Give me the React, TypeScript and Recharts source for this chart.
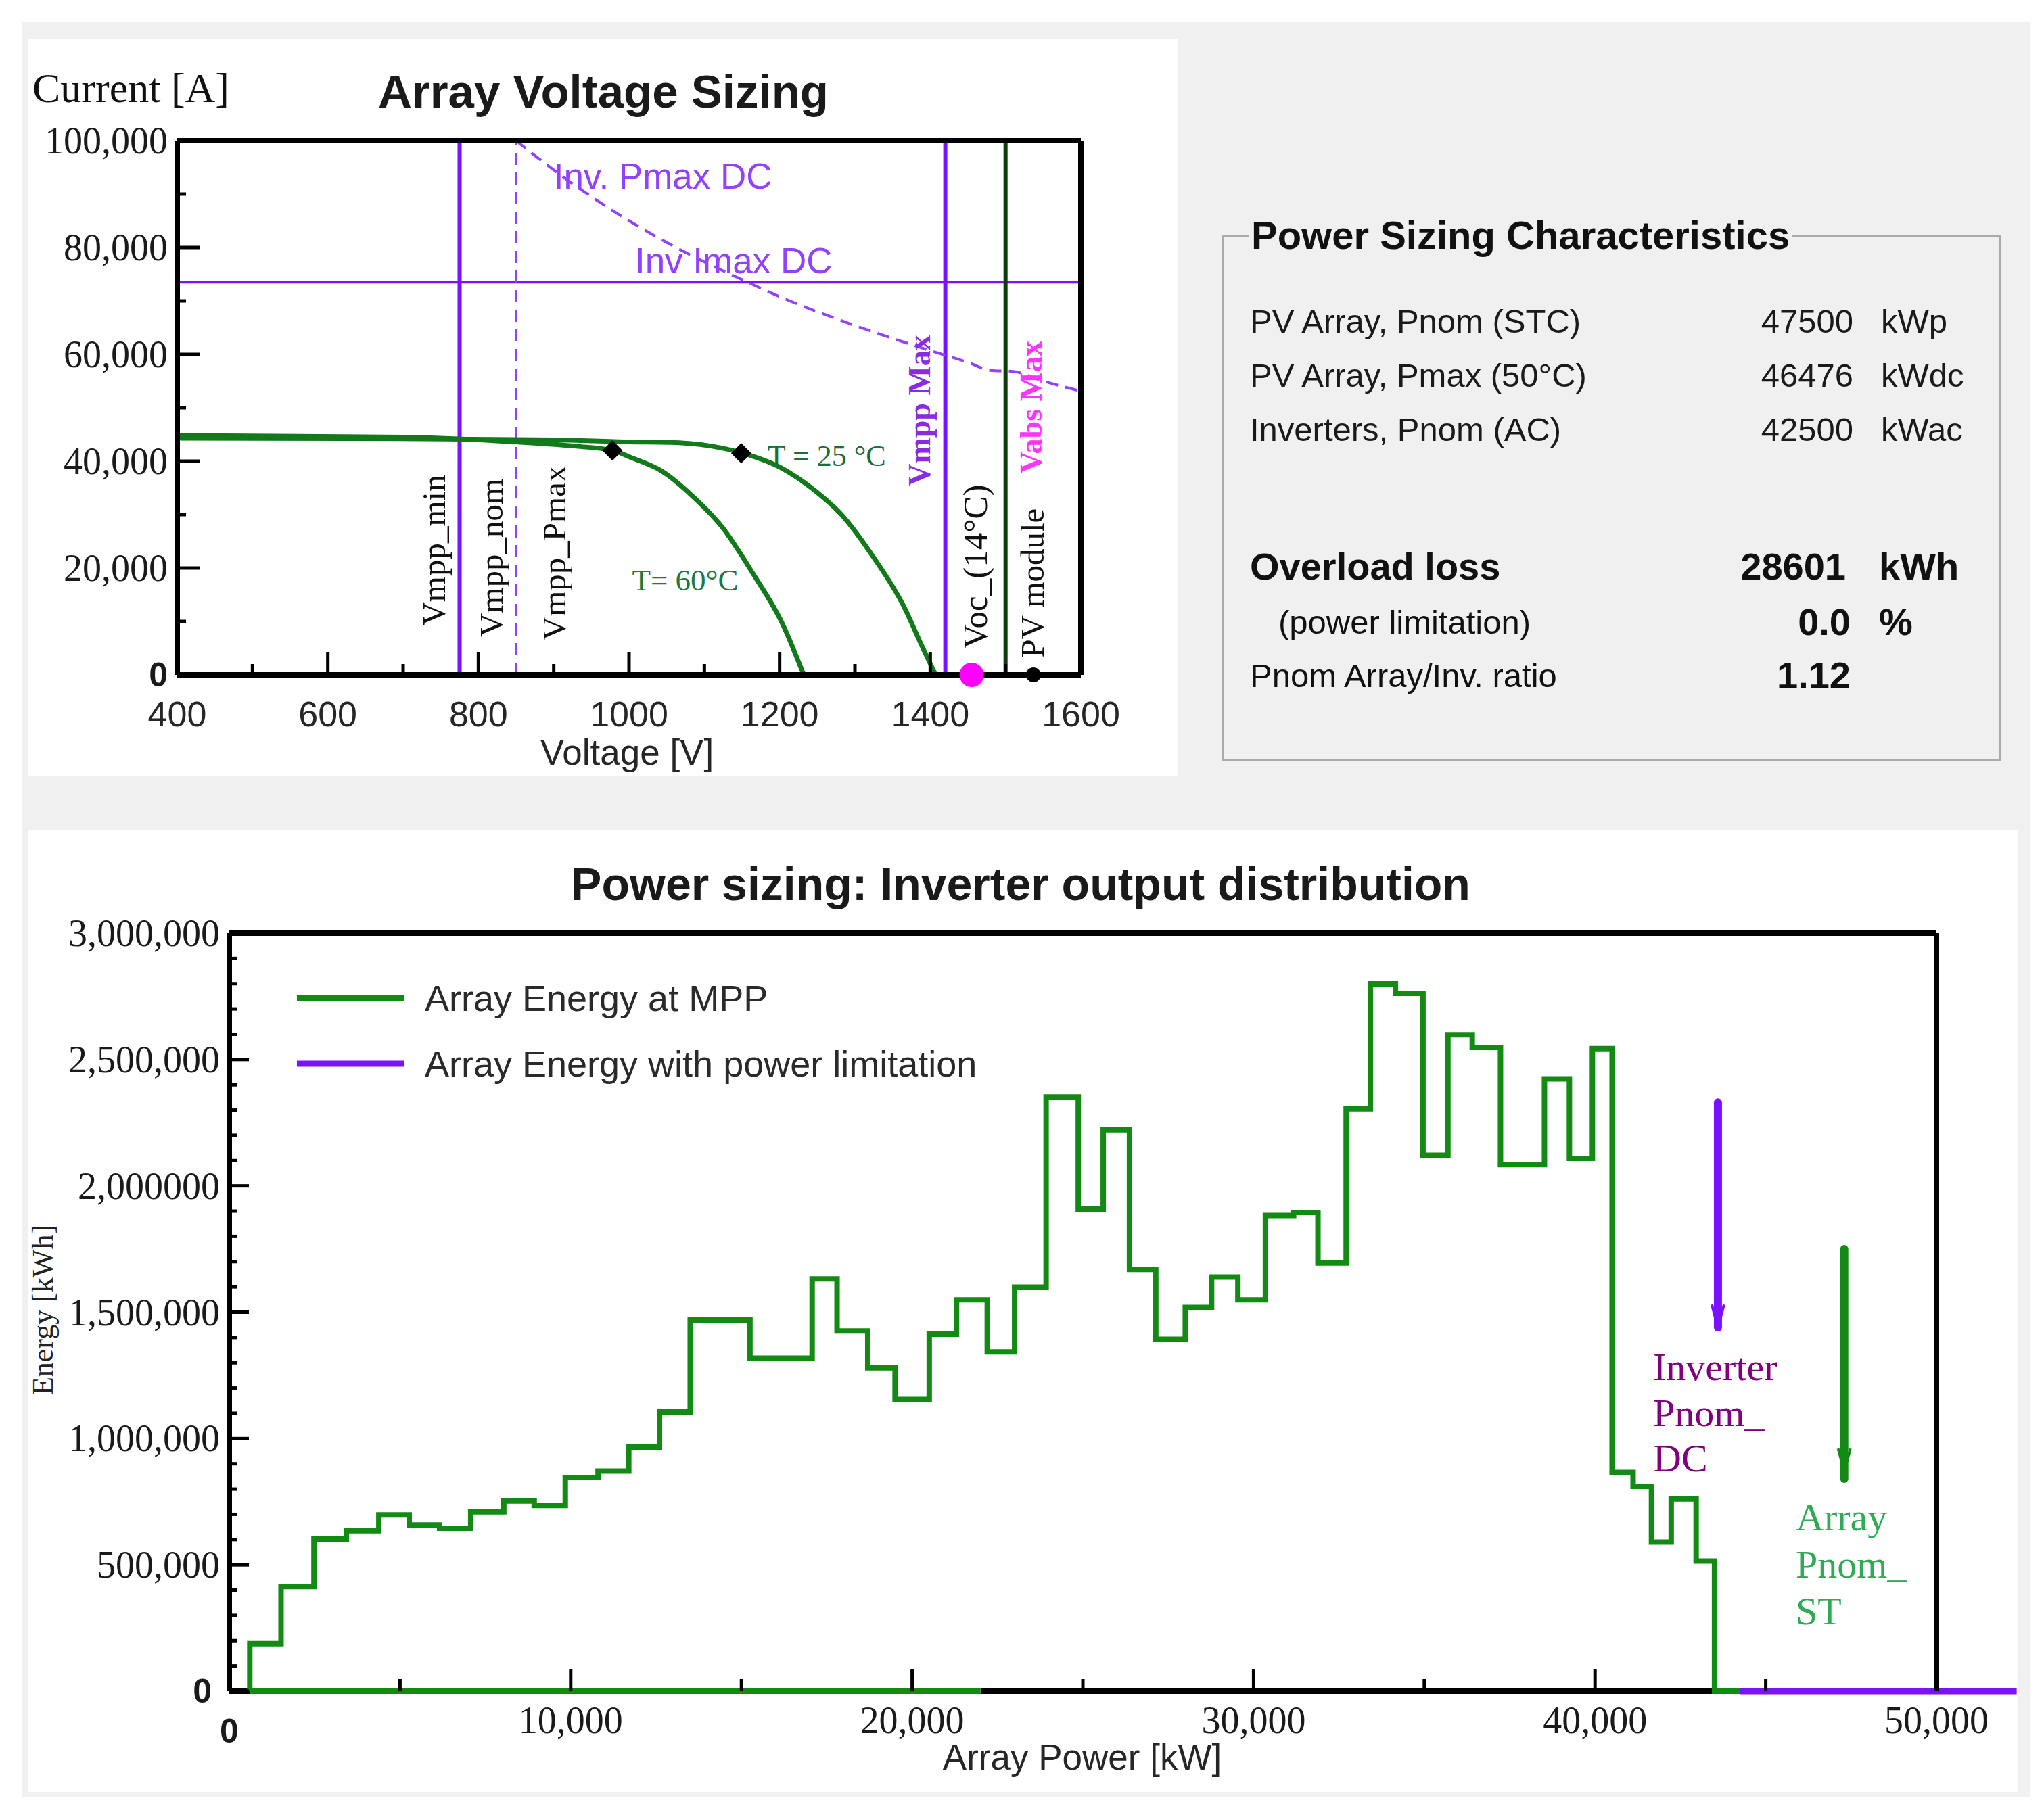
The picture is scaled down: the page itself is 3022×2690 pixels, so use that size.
import React from 'react';
import {
  ComposedChart,
  Line,
  XAxis,
  YAxis,
  ReferenceLine,
  ReferenceDot,
  Legend,
} from 'recharts';

const SANS = '"Liberation Sans", Arial, sans-serif';
const SERIF = '"Liberation Serif", "Times New Roman", serif';
const PURPLE = '#7b12ff';
const LIGHT_PURPLE = '#9340ff';
const GREEN = '#138a13';
const IV_GREEN = '#137a1c';

// ---------- Array Voltage Sizing (top left) ----------
const voltTicks = [400, 500, 600, 700, 800, 900, 1000, 1100, 1200, 1300, 1400, 1500, 1600];
const voltTickLabels = [400, 600, 800, 1000, 1200, 1400, 1600];
const currentTicks = [0, 10000, 20000, 30000, 40000, 50000, 60000, 70000, 80000, 90000, 100000];
const currentMajor = [0, 20000, 40000, 60000, 80000, 100000];
const currentTickLabels = ['0', '20,000', '40,000', '60,000', '80,000', '100,000'];

const iv25Volt = [400, 700, 900, 1000, 1054, 1110, 1151, 1204, 1244, 1284, 1324, 1365, 1388, 1407];
const iv25Amp = [44300, 44200, 44000, 43600, 43500, 42800, 41500, 38600, 34800, 29700, 22150, 12800, 5700, 0];
const iv60Volt = [400, 700, 850, 930, 978, 1004, 1044, 1084, 1124, 1164, 1204, 1232];
const iv60Amp = [44800, 44500, 43600, 42800, 42000, 40600, 38100, 33500, 27600, 19100, 9500, 0];
const pmaxDcVolt = [850, 900, 1000, 1100, 1150, 1200, 1300, 1400, 1450, 1480, 1510, 1550, 1600];
const pmaxDcAmp = [100000, 94500, 85000, 77300, 74000, 70800, 65400, 60700, 58500, 57000, 56800, 55000, 53100];
const mppVolt = [978, 1149];
const mppAmp = [42000, 41500];
const vmppMin = 775;
const vmppNom = 850;
const vmppMax = 1420;
const vabsMax = 1500;
const invImaxDc = 73500;
const vocVolt = 1455;
const moduleVolt = 1537;

// ---------- Inverter output distribution (bottom) ----------
const powerTicks = [0, 5000, 10000, 15000, 20000, 25000, 30000, 35000, 40000, 45000, 50000];
const powerMajor = [0, 10000, 20000, 30000, 40000, 50000];
const powerTickLabels = ['0', '10,000', '20,000', '30,000', '40,000', '50,000'];
const energyTicks = Array.from({ length: 31 }, (_, k) => k * 100000);
const energyMajor = [0, 500000, 1000000, 1500000, 2000000, 2500000, 3000000];
const energyTickLabels = ['0', '500,000', '1,000,000', '1,500,000', '2,000000', '2,500,000', '3,000,000'];

const mppBinStart = [
  600, 1515, 2480, 3430, 4380, 5270, 6160, 7070, 8040, 8930,
  9840, 10800, 11700, 12600, 13500, 15250, 17070, 17800, 18700, 19500,
  20500, 21300, 22200, 23000, 23923, 24865, 25596, 26365, 27135, 28000,
  28770, 29540, 30346, 31173, 31885, 32711, 33423, 34154, 34962, 35692,
  36404, 37231, 38519, 39250, 39923, 40500, 41115, 41654, 42231, 42961,
];
const mppBinEnergy = [
  188000, 414000, 602000, 635000, 698000, 658000, 645000, 710000, 753000, 735000,
  846000, 871000, 966000, 1105000, 1469000, 1318000, 1632000, 1426000, 1280000, 1155000,
  1413000, 1549000, 1343000, 1599000, 2352000, 1908000, 2222000, 1669000, 1393000, 1519000,
  1639000, 1549000, 1883000, 1895000, 1695000, 2305000, 2799000, 2762000, 2121000, 2598000,
  2548000, 2084000, 2423000, 2109000, 2543000, 866000, 811000, 590000, 761000, 515000,
];
const mppLastEdge = 43500;
const mppTailEnd = 44250;
const mppBaselineEnd = 22000;
const limitPower = [44250, 50000];
const limitEnergy = [0, 0];
const limitOverflowEnd = 52350;
const invPnomDc = 43600;
const invArrowEnergy = [2330000, 1440000];
const arrayPnomStc = 47300;
const arrayArrowEnergy = [1750000, 840000];

const legendNames = ['Array Energy at MPP', 'Array Energy with power limitation'];
const legendColors = [GREEN, PURPLE];

const sizingLabels = ['PV Array, Pnom (STC)', 'PV Array, Pmax (50°C)', 'Inverters, Pnom (AC)'];
const sizingValues = ['47500', '46476', '42500'];
const sizingUnits = ['kWp', 'kWdc', 'kWac'];
const lossLabels = ['Overload loss', '(power limitation)', 'Pnom Array/Inv. ratio'];
const lossValues = ['28601', '0.0', '1.12'];
const lossUnits = ['kWh', '%', ''];

const iv25 = iv25Volt.map((v, k) => ({ v, i: iv25Amp[k] }));
const iv60 = iv60Volt.map((v, k) => ({ v, i: iv60Amp[k] }));
const pmaxDc = pmaxDcVolt.map((v, k) => ({ v, i: pmaxDcAmp[k] }));
const mppSteps = [
  { p: mppBinStart[0], e: 0 },
  ...mppBinStart.map((p, k) => ({ p, e: mppBinEnergy[k] })),
  { p: mppLastEdge, e: 0 },
  { p: mppTailEnd, e: 0 },
];
const limitLine = limitPower.map((p, k) => ({ p, e: limitEnergy[k] }));

// tick renderers: ticks point inward, labels only on major values
const VoltTick = (props: any) => {
  const { x, y, payload } = props;
  const major = voltTickLabels.includes(payload.value);
  return (
    <g>
      <line x1={x} x2={x} y1={y} y2={y - (major ? 34 : 16)} stroke="#000" strokeWidth={5} />
      {major && (
        <text x={x} y={y + 58} textAnchor="middle" dominantBaseline="central" fontFamily={SANS} fontSize={52} fill="#262626">
          {payload.value}
        </text>
      )}
    </g>
  );
};
const VoltTickTop = (props: any) => {
  const { x, y, payload } = props;
  const major = voltTickLabels.includes(payload.value);
  return <line x1={x} x2={x} y1={y} y2={y + (major ? 34 : 16)} stroke="#000" strokeWidth={5} />;
};
const CurrentTick = (props: any) => {
  const { x, y, payload } = props;
  const idx = currentMajor.indexOf(payload.value);
  const major = idx >= 0;
  const isZero = payload.value === 0;
  return (
    <g>
      <line x1={x} x2={x + (major ? 33 : 13)} y1={y} y2={y} stroke="#000" strokeWidth={5} />
      {major && (
        <text x={x - 14} y={y} textAnchor="end" dominantBaseline="central"
          fontFamily={isZero ? SANS : SERIF} fontSize={isZero ? 50 : 56} fontWeight={isZero ? 'bold' : 'normal'} fill="#1a1a1a">
          {currentTickLabels[idx]}
        </text>
      )}
    </g>
  );
};
const CurrentTickRight = (props: any) => {
  const { x, y, payload } = props;
  const major = currentMajor.includes(payload.value);
  return <line x1={x} x2={x - (major ? 33 : 13)} y1={y} y2={y} stroke="#000" strokeWidth={5} />;
};

const PowerTick = (props: any) => {
  const { x, y, payload } = props;
  const idx = powerMajor.indexOf(payload.value);
  const major = idx >= 0;
  const isZero = payload.value === 0;
  return (
    <g>
      <line x1={x} x2={x} y1={y} y2={y - (major ? 33 : 18)} stroke="#000" strokeWidth={5} />
      {major && (
        <text x={x} y={y + (isZero ? 59 : 43)} textAnchor="middle" dominantBaseline="central"
          fontFamily={isZero ? SANS : SERIF} fontSize={isZero ? 50 : 56} fontWeight={isZero ? 'bold' : 'normal'} fill="#1a1a1a">
          {powerTickLabels[idx]}
        </text>
      )}
    </g>
  );
};
const PowerTickTop = (props: any) => {
  const { x, y, payload } = props;
  const major = powerMajor.includes(payload.value);
  return <line x1={x} x2={x} y1={y} y2={y + (major ? 33 : 18)} stroke="#000" strokeWidth={5} />;
};
const EnergyTick = (props: any) => {
  const { x, y, payload } = props;
  const idx = energyMajor.indexOf(payload.value);
  const major = idx >= 0;
  const isZero = payload.value === 0;
  return (
    <g>
      <line x1={x} x2={x + (major ? 29 : 11)} y1={y} y2={y} stroke="#000" strokeWidth={5} />
      {major && (
        <text x={x - (isZero ? 26 : 14)} y={y} textAnchor="end" dominantBaseline="central"
          fontFamily={isZero ? SANS : SERIF} fontSize={isZero ? 50 : 56} fontWeight={isZero ? 'bold' : 'normal'} fill="#1a1a1a">
          {energyTickLabels[idx]}
        </text>
      )}
    </g>
  );
};
const EnergyTickRight = (props: any) => {
  const { x, y, payload } = props;
  const major = energyMajor.includes(payload.value);
  return <line x1={x} x2={x - (major ? 29 : 11)} y1={y} y2={y} stroke="#000" strokeWidth={5} />;
};

const Diamond = (props: any) => {
  const { cx, cy } = props;
  const s = 15;
  return <polygon points={`${cx},${cy - s} ${cx + s},${cy} ${cx},${cy + s} ${cx - s},${cy}`} fill="#000" />;
};

const frame = { stroke: '#000', strokeWidth: 8 };

function note(key: string, x: number, y: number, value: string, opts: any) {
  const { angle = 0, anchor = 'center', ...style } = opts;
  return (
    <ReferenceDot
      key={key}
      x={x}
      y={y}
      r={0}
      fill="none"
      stroke="none"
      label={{ value, position: anchor, offset: 0, angle, ...style }}
    />
  );
}

const centered = (x: number, y: number): React.CSSProperties => ({
  position: 'absolute',
  left: x,
  top: y,
  transform: 'translate(-50%, -50%)',
  whiteSpace: 'nowrap',
  lineHeight: 1,
});

export default function App() {
  return (
    <div style={{ position: 'absolute', left: 0, top: 0, width: 3022, height: 2690, background: '#fff', overflow: 'hidden' }}>
      <div style={{ position: 'absolute', left: 33, top: 32, width: 2969, height: 2626, background: '#f0f0f0' }} />
      <div style={{ position: 'absolute', left: 42, top: 57, width: 1700, height: 1090, background: '#fff' }} />
      <div style={{ position: 'absolute', left: 42, top: 1228, width: 2941, height: 1422, background: '#fff' }} />

      {/* top-left chart texts */}
      <div style={{ position: 'absolute', left: 48, top: 99, fontFamily: SERIF, fontSize: 62, color: '#111', lineHeight: 1, whiteSpace: 'nowrap' }}>
        Current [A]
      </div>
      <div style={{ ...centered(892, 135), fontFamily: SANS, fontSize: 69, fontWeight: 'bold', color: '#1a1a1a' }}>
        Array Voltage Sizing
      </div>
      <div style={{ ...centered(927, 1112), fontFamily: SANS, fontSize: 53, color: '#262626' }}>Voltage [V]</div>

      <div style={{ position: 'absolute', left: 0, top: 0 }}>
        <ComposedChart width={1742} height={1147} margin={{ top: 207, right: 143, bottom: 49, left: 62 }}>
          <XAxis dataKey="v" type="number" domain={[400, 1600]} ticks={voltTicks} interval={0} height={100}
            tickSize={0} tickMargin={0} tickLine={false} tick={VoltTick} axisLine={frame} />
          <XAxis xAxisId="top" orientation="top" dataKey="v" type="number" domain={[400, 1600]} ticks={voltTicks}
            interval={0} height={1} tickSize={0} tickMargin={0} tickLine={false} tick={VoltTickTop} axisLine={frame} />
          <YAxis type="number" domain={[0, 100000]} ticks={currentTicks} interval={0} width={200}
            tickSize={0} tickMargin={0} tickLine={false} tick={CurrentTick} axisLine={frame} />
          <YAxis yAxisId="right" orientation="right" type="number" domain={[0, 100000]} ticks={currentTicks}
            interval={0} width={1} tickSize={0} tickMargin={0} tickLine={false} tick={CurrentTickRight} axisLine={frame} />

          <ReferenceLine y={invImaxDc} stroke={PURPLE} strokeWidth={4} />
          <ReferenceLine x={vmppMin} stroke={PURPLE} strokeWidth={6} />
          <ReferenceLine x={vmppNom} stroke={LIGHT_PURPLE} strokeWidth={4} strokeDasharray="18 11" />
          <ReferenceLine x={vmppMax} stroke={PURPLE} strokeWidth={6} />
          <ReferenceLine x={vabsMax} stroke="#0b3d0b" strokeWidth={6} />

          <Line data={pmaxDc} dataKey="i" type="monotone" stroke={LIGHT_PURPLE} strokeWidth={4}
            strokeDasharray="18 11" dot={false} isAnimationActive={false} />
          <Line data={iv60} dataKey="i" type="monotone" stroke={IV_GREEN} strokeWidth={7} dot={false} isAnimationActive={false} />
          <Line data={iv25} dataKey="i" type="monotone" stroke={IV_GREEN} strokeWidth={7} dot={false} isAnimationActive={false} />

          {mppVolt.map((v, k) => (
            <ReferenceDot key={`mpp${k}`} x={v} y={mppAmp[k]} r={15} shape={Diamond} />
          ))}
          <ReferenceDot x={vocVolt} y={0} r={18} fill="#ff00ff" stroke="none" ifOverflow="visible" />
          <ReferenceDot x={moduleVolt} y={0} r={11} fill="#000" stroke="none" ifOverflow="visible" />

          {note('n1', 900, 93400, 'Inv. Pmax DC', { anchor: 'right', fill: LIGHT_PURPLE, fontFamily: SANS, fontSize: 53 })}
          {note('n2', 1008, 77600, 'Inv Imax DC', { anchor: 'right', fill: LIGHT_PURPLE, fontFamily: SANS, fontSize: 53 })}
          {note('n3', 1385, 49500, 'Vmpp Max', { angle: -90, fill: '#8a2be2', fontFamily: SERIF, fontWeight: 'bold', fontSize: 46 })}
          {note('n4', 1533, 50100, 'Vabs Max', { angle: -90, fill: '#ff33ff', fontFamily: SERIF, fontWeight: 'bold', fontSize: 46 })}
          {note('n5', 1184, 41100, 'T = 25 °C', { anchor: 'right', fill: '#1b6e3a', fontFamily: SERIF, fontSize: 44 })}
          {note('n6', 1004, 17850, 'T= 60°C', { anchor: 'right', fill: '#1b7a40', fontFamily: SERIF, fontSize: 45 })}
          {note('n7', 740, 23300, 'Vmpp_min', { angle: -90, fill: '#111', fontFamily: SERIF, fontSize: 49 })}
          {note('n8', 816, 21900, 'Vmpp_nom', { angle: -90, fill: '#111', fontFamily: SERIF, fontSize: 49 })}
          {note('n9', 900, 22800, 'Vmpp_Pmax', { angle: -90, fill: '#111', fontFamily: SERIF, fontSize: 49 })}
          {note('n10', 1459, 20250, 'Voc_(14°C)', { angle: -90, fill: '#111', fontFamily: SERIF, fontSize: 51 })}
          {note('n11', 1535, 17200, 'PV module', { angle: -90, fill: '#111', fontFamily: SERIF, fontSize: 49 })}
        </ComposedChart>
      </div>

      {/* Power Sizing Characteristics box */}
      <div style={{ position: 'absolute', left: 1807, top: 347, width: 1151, height: 779, border: '3px solid #a9a9a9', boxSizing: 'border-box' }}>
        <div style={{ position: 'absolute', left: 36, top: -32, padding: '0 4px', background: '#f0f0f0', fontFamily: SANS, fontWeight: 'bold', fontSize: 58, lineHeight: '60px', color: '#111', whiteSpace: 'nowrap' }}>
          Power Sizing Characteristics
        </div>
        {sizingLabels.map((label, k) => (
          <React.Fragment key={label}>
            <div style={{ position: 'absolute', left: 38, top: 128 + k * 80 - 31, fontFamily: SANS, fontSize: 49, lineHeight: '56px', color: '#1a1a1a', whiteSpace: 'nowrap' }}>{label}</div>
            <div style={{ position: 'absolute', right: 1151 - 936, top: 128 + k * 80 - 31, fontFamily: SANS, fontSize: 49, lineHeight: '56px', color: '#1a1a1a' }}>{sizingValues[k]}</div>
            <div style={{ position: 'absolute', left: 971, top: 128 + k * 80 - 31, fontFamily: SANS, fontSize: 49, lineHeight: '56px', color: '#1a1a1a' }}>{sizingUnits[k]}</div>
          </React.Fragment>
        ))}
        {lossLabels.map((label, k) => {
          const top = [491, 573, 652][k] - 33;
          const first = k === 0;
          return (
            <React.Fragment key={label}>
              <div style={{ position: 'absolute', left: k === 1 ? 80 : 38, top, fontFamily: SANS, fontSize: first ? 56 : 49, fontWeight: first ? 'bold' : 'normal', lineHeight: '60px', color: '#111', whiteSpace: 'nowrap' }}>{label}</div>
              <div style={{ position: 'absolute', right: 1151 - (first ? 925 : 932), top, fontFamily: SANS, fontSize: 56, fontWeight: 'bold', lineHeight: '60px', color: '#111' }}>{lossValues[k]}</div>
              <div style={{ position: 'absolute', left: 968, top, fontFamily: SANS, fontSize: 56, fontWeight: 'bold', lineHeight: '60px', color: '#111' }}>{lossUnits[k]}</div>
            </React.Fragment>
          );
        })}
      </div>

      {/* bottom chart texts */}
      <div style={{ ...centered(1509, 1307), fontFamily: SANS, fontSize: 68, fontWeight: 'bold', color: '#1a1a1a' }}>
        Power sizing: Inverter output distribution
      </div>
      <div style={{ ...centered(1600, 2598), fontFamily: SANS, fontSize: 53, color: '#262626' }}>Array Power [kW]</div>
      <div style={{ ...centered(64, 1937), transform: 'translate(-50%, -50%) rotate(-90deg)', fontFamily: SERIF, fontSize: 44, color: '#222' }}>
        Energy [kWh]
      </div>

      <div style={{ position: 'absolute', left: 0, top: 1228 }}>
        <ComposedChart width={2983} height={1422} margin={{ top: 151, right: 119, bottom: 49, left: 89 }}>
          <XAxis dataKey="p" type="number" domain={[0, 50000]} ticks={powerTicks} interval={0} height={100}
            tickSize={0} tickMargin={0} tickLine={false} tick={PowerTick} axisLine={false} />
          <XAxis xAxisId="top" orientation="top" dataKey="p" type="number" domain={[0, 50000]} ticks={powerTicks}
            interval={0} height={1} tickSize={0} tickMargin={0} tickLine={false} tick={PowerTickTop} axisLine={frame} />
          <YAxis type="number" domain={[0, 3000000]} ticks={energyTicks} interval={0} width={250}
            tickSize={0} tickMargin={0} tickLine={false} tick={EnergyTick} axisLine={frame} />
          <YAxis yAxisId="right" orientation="right" type="number" domain={[0, 3000000]} ticks={energyTicks}
            interval={0} width={1} tickSize={0} tickMargin={0} tickLine={false} tick={EnergyTickRight} axisLine={frame} />

          <Legend
            layout="vertical"
            align="center"
            verticalAlign="middle"
            wrapperStyle={{ left: 439, top: 199, width: 1500, height: 194 }}
            content={() => (
              <div>
                {legendNames.map((name, k) => (
                  <div key={name} style={{ height: 97, display: 'flex', alignItems: 'center' }}>
                    <svg width={158} height={12}>
                      <line x1={0} x2={158} y1={6} y2={6} stroke={legendColors[k]} strokeWidth={9} />
                    </svg>
                    <span style={{ marginLeft: 31, fontFamily: SANS, fontSize: 54, color: '#2a2a2a', whiteSpace: 'nowrap' }}>{name}</span>
                  </div>
                ))}
              </div>
            )}
          />

          {/* bottom frame drawn in pieces so the coloured baselines stay visible */}
          <ReferenceLine segment={[{ x: 0, y: 0 }, { x: mppBinStart[0], y: 0 }]} stroke="#000" strokeWidth={8} />
          <ReferenceLine segment={[{ x: mppBaselineEnd, y: 0 }, { x: mppLastEdge, y: 0 }]} stroke="#000" strokeWidth={8} />
          <ReferenceLine segment={[{ x: mppBinStart[0], y: 0 }, { x: mppBaselineEnd, y: 0 }]} stroke={GREEN} strokeWidth={8} />
          <Line data={mppSteps} dataKey="e" type="stepAfter" stroke={GREEN} strokeWidth={8} dot={false} isAnimationActive={false} />
          <Line data={limitLine} dataKey="e" type="linear" stroke={PURPLE} strokeWidth={9} dot={false} isAnimationActive={false} />
          <ReferenceLine segment={[{ x: limitPower[1], y: 0 }, { x: limitOverflowEnd, y: 0 }]} stroke={PURPLE} strokeWidth={9} ifOverflow="visible" />

          <ReferenceLine segment={[{ x: invPnomDc, y: invArrowEnergy[0] }, { x: invPnomDc, y: invArrowEnergy[1] }]} stroke={PURPLE} strokeWidth={12} strokeLinecap="round" />
          <ReferenceLine segment={[{ x: invPnomDc - 180, y: invArrowEnergy[1] + 90000 }, { x: invPnomDc, y: invArrowEnergy[1] }]} stroke={PURPLE} strokeWidth={4} />
          <ReferenceLine segment={[{ x: invPnomDc + 180, y: invArrowEnergy[1] + 90000 }, { x: invPnomDc, y: invArrowEnergy[1] }]} stroke={PURPLE} strokeWidth={4} />
          <ReferenceLine segment={[{ x: arrayPnomStc, y: arrayArrowEnergy[0] }, { x: arrayPnomStc, y: arrayArrowEnergy[1] }]} stroke={GREEN} strokeWidth={12} strokeLinecap="round" />
          <ReferenceLine segment={[{ x: arrayPnomStc - 180, y: arrayArrowEnergy[1] + 120000 }, { x: arrayPnomStc, y: arrayArrowEnergy[1] + 30000 }]} stroke={GREEN} strokeWidth={4} />
          <ReferenceLine segment={[{ x: arrayPnomStc + 180, y: arrayArrowEnergy[1] + 120000 }, { x: arrayPnomStc, y: arrayArrowEnergy[1] + 30000 }]} stroke={GREEN} strokeWidth={4} />

          {['Inverter', 'Pnom_', 'DC'].map((t, k) =>
            note(`inv${k}`, 41700, 1285000 - k * 180000, t, { anchor: 'right', fill: '#800080', fontFamily: SERIF, fontSize: 58 })
          )}
          {['Array', 'Pnom_', 'ST'].map((t, k) =>
            note(`arr${k}`, 45880, 693000 - k * 187000, t, { anchor: 'right', fill: '#2faa55', fontFamily: SERIF, fontSize: 58 })
          )}
        </ComposedChart>
      </div>
    </div>
  );
}
